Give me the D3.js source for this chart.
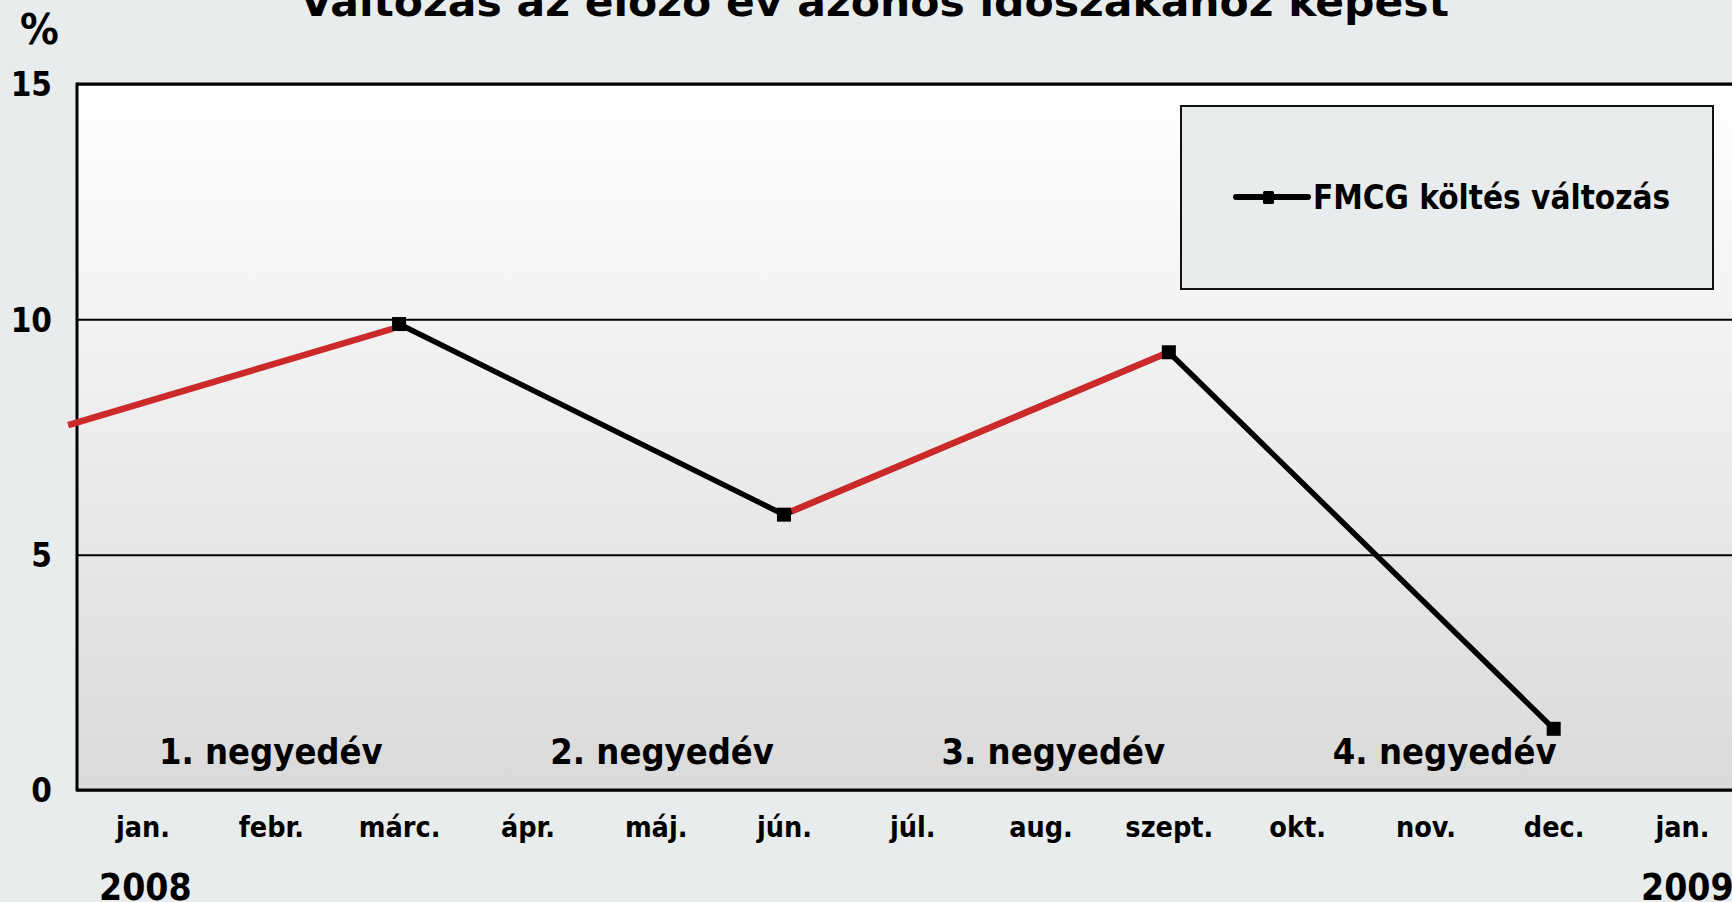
<!DOCTYPE html>
<html>
<head>
<meta charset="utf-8">
<script src="https://cdn.jsdelivr.net/npm/d3@7"></script>
<style>
  body { margin: 0; background: #e8ecec; overflow: hidden; }
  text { font-family: "DejaVu Sans Condensed", "DejaVu Sans", sans-serif; font-weight: bold; fill: #000; }
</style>
</head>
<body>
<svg id="chart" width="1732" height="902"></svg>
<script>
// months on the x axis (index 0 = jan. 2008, 12 = jan. 2009)
var months = ['jan.', 'febr.', 'márc.', 'ápr.', 'máj.', 'jún.', 'júl.', 'aug.', 'szept.', 'okt.', 'nov.', 'dec.', 'jan.'];
var yTicks = [0, 5, 10, 15];

// FMCG költés változás, quarter-end months
var seriesMonth = [2, 5, 8, 11];
var seriesValue = [9.9, 5.85, 9.3, 1.3];

// red highlight segments (month index, value)
var redStart = [[-0.58, 7.75], [5.06, 5.92]];
var redEnd = [[1.95, 9.8], [7.97, 9.27]];

var quarterLabels = ['1. negyedév', '2. negyedév', '3. negyedév', '4. negyedév'];
var quarterPos = [1, 4.05, 7.1, 10.15];
var years = ['2008', '2009'];

var svg = d3.select('#chart');
var plotL = 77, plotT = 84, plotB = 790, plotR = 1740;

var x = d3.scaleLinear().domain([0, 12]).range([142.5, 1682]);
var y = d3.scaleLinear().domain([0, 15]).range([plotB, plotT]);

// plot background gradient
var grad = svg.append('defs').append('linearGradient')
	.attr('id', 'bg').attr('x1', 0).attr('y1', 0).attr('x2', 0).attr('y2', 1);
grad.append('stop').attr('offset', '0%').attr('stop-color', '#ffffff');
grad.append('stop').attr('offset', '100%').attr('stop-color', '#dadada');

svg.append('rect')
	.attr('x', plotL).attr('y', plotT)
	.attr('width', plotR - plotL).attr('height', plotB - plotT)
	.attr('fill', 'url(#bg)');

// gridlines + y labels
var yAxis = svg.append('g')
	.attr('transform', 'translate(' + plotL + ',0)')
	.call(d3.axisLeft(y).tickValues(yTicks).tickSize(-(plotR - plotL)).tickPadding(25));
yAxis.select('.domain').remove();
yAxis.selectAll('line').attr('stroke', '#000').attr('stroke-width', 2);
yAxis.selectAll('text')
	.style('font-size', '33px')
	.attr('dy', '0.36em');

// borders
svg.append('line').attr('x1', plotL).attr('x2', plotL).attr('y1', plotT - 1.5).attr('y2', plotB + 1.5)
	.attr('stroke', '#000').attr('stroke-width', 3);
svg.append('line').attr('x1', plotL).attr('x2', plotR).attr('y1', plotT).attr('y2', plotT)
	.attr('stroke', '#000').attr('stroke-width', 3);
svg.append('line').attr('x1', plotL).attr('x2', plotR).attr('y1', plotB).attr('y2', plotB)
	.attr('stroke', '#000').attr('stroke-width', 3);

// month labels
var xAxis = svg.append('g')
	.attr('transform', 'translate(0,' + plotB + ')')
	.call(d3.axisBottom(x).tickValues(d3.range(months.length))
		.tickFormat(function(d){ return months[d]; }).tickSize(0).tickPadding(27));
xAxis.select('.domain').remove();
xAxis.selectAll('text').style('font-size', '28.5px');

// years
svg.selectAll('text.year')
	.data(years)
  .enter().append('text')
	.attr('class', 'year')
	.attr('x', function(d, i){ return i == 0 ? 99 : 1641; })
	.attr('y', 900)
	.style('font-size', '37px')
	.text(function(d){ return d; });

// quarter labels
svg.selectAll('text.q')
	.data(quarterLabels)
  .enter().append('text')
	.attr('class', 'q')
	.attr('x', function(d, i){ return x(quarterPos[i]); })
	.attr('y', 764)
	.attr('text-anchor', 'middle')
	.style('font-size', '36px')
	.text(function(d){ return d; });

// black series line
var line = d3.line()
	.x(function(d, i){ return x(seriesMonth[i]); })
	.y(function(d){ return y(d); });

svg.append('path')
	.datum(seriesValue)
	.attr('d', line)
	.attr('fill', 'none')
	.attr('stroke', '#000')
	.attr('stroke-width', 5.5)
	.attr('stroke-linejoin', 'miter');

// red segments
svg.selectAll('line.red')
	.data(redStart)
  .enter().append('line')
	.attr('class', 'red')
	.attr('x1', function(d){ return x(d[0]); })
	.attr('y1', function(d){ return y(d[1]); })
	.attr('x2', function(d, i){ return x(redEnd[i][0]); })
	.attr('y2', function(d, i){ return y(redEnd[i][1]); })
	.attr('stroke', '#cc2a2a')
	.attr('stroke-width', 6.5);

// markers
svg.selectAll('rect.mk')
	.data(seriesValue)
  .enter().append('rect')
	.attr('class', 'mk')
	.attr('x', function(d, i){ return x(seriesMonth[i]) - 7; })
	.attr('y', function(d){ return y(d) - 7; })
	.attr('width', 14).attr('height', 14)
	.attr('fill', '#000');

// legend
var lg = svg.append('g');
lg.append('rect')
	.attr('x', 1181).attr('y', 106).attr('width', 532).attr('height', 183)
	.attr('fill', '#e8ecec').attr('stroke', '#111').attr('stroke-width', 2);
lg.append('line')
	.attr('x1', 1236).attr('x2', 1308).attr('y1', 197).attr('y2', 197)
	.attr('stroke', '#000').attr('stroke-width', 6).attr('stroke-linecap', 'round');
lg.append('rect')
	.attr('x', 1263).attr('y', 191).attr('width', 11).attr('height', 13).attr('rx', 1.5)
	.attr('fill', '#000');
lg.append('text')
	.attr('x', 1313).attr('y', 209)
	.style('font-size', '33px')
	.text('FMCG költés változás');

// title (cut at top)
svg.append('text')
	.attr('x', 300).attr('y', 16)
	.attr('textLength', 1149).attr('lengthAdjust', 'spacingAndGlyphs')
	.style('font-size', '40px')
	.text('Változás az előző év azonos időszakához képest');

// % label
svg.append('text')
	.attr('x', 20).attr('y', 44)
	.style('font-size', '43px')
	.text('%');
</script>
</body>
</html>
